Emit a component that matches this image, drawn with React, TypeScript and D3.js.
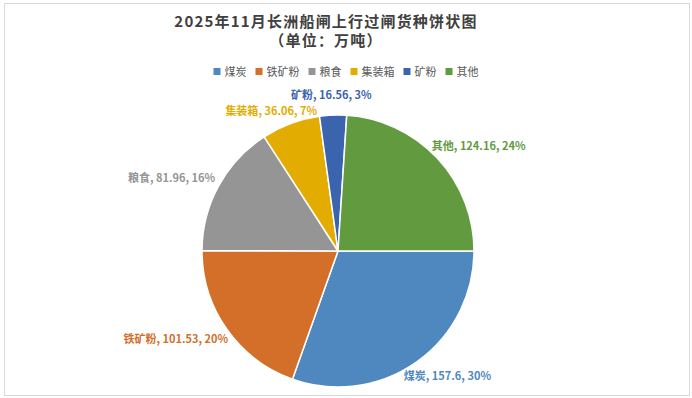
import * as d3 from "d3";
import { useRef, useEffect } from "react";

const categories = ["煤炭", "铁矿粉", "粮食", "集装箱", "矿粉", "其他"];
const values = [157.6, 101.53, 81.96, 36.06, 16.56, 124.16];
const colors = ["#4f88bf", "#d46f2a", "#959595", "#e3ac00", "#3b64ae", "#629b3f"];

const titleLines = ["2025年11月长洲船闸上行过闸货种饼状图", "（单位：万吨）"];

const FONT = "'Noto Sans CJK SC', 'Noto Sans', sans-serif";

function App() {
  const svgRef = useRef<SVGSVGElement>(null);

  useEffect(() => {
    document.body.style.margin = "0";
    const WIDTH = 692;
    const HEIGHT = 398;
    const CX = 338;
    const CY = 251;
    const RADIUS = 136;

    const svg = d3.select(svgRef.current)
      .attr("width", WIDTH)
      .attr("height", HEIGHT)
      .style("display", "block")
      .style("font-family", FONT);
    svg.selectAll("*").remove();

    svg.append("rect")
      .attr("x", 4.5).attr("y", 3.5)
      .attr("width", 685).attr("height", 392)
      .attr("fill", "white")
      .attr("stroke", "#d9d9d9");

    // title
    svg.append("g").selectAll("text")
      .data(titleLines)
      .join("text")
      .attr("x", 326)
      .attr("y", (d, i) => 27 + i * 19)
      .attr("text-anchor", "middle")
      .attr("font-size", 15)
      .attr("letter-spacing", 1.2)
      .attr("font-weight", "bold")
      .attr("fill", "#404040")
      .text(d => d);

    // legend
    const legend = svg.append("g");
    let lx = 0;
    categories.forEach((name, i) => {
      const item = legend.append("g").attr("transform", `translate(${lx},0)`);
      item.append("rect")
        .attr("x", 0).attr("y", -4)
        .attr("width", 7).attr("height", 7)
        .attr("fill", colors[i]);
      const t = item.append("text")
        .attr("x", 11).attr("y", 4)
        .attr("font-size", 11)
        .attr("fill", "#595959")
        .text(name);
      const w = (t.node() as SVGTextElement).getComputedTextLength();
      lx += 11 + w + 9;
    });
    const legendW = lx - 9;
    legend.attr("transform", `translate(${346 - legendW / 2},72)`);

    const pieData = d3.pie<number>()
      .sort(null)
      .startAngle(Math.PI / 2)
      .endAngle(Math.PI / 2 + 2 * Math.PI)
      .value(d => d)(values);
    const arcGenerator = d3.arc<d3.PieArcDatum<number>>().innerRadius(0).outerRadius(RADIUS);
    const total = d3.sum(values);
    const pct = d3.format(".0%");

    const pie = svg.append("g").attr("transform", `translate(${CX},${CY})`);
    pie.selectAll("path")
      .data(pieData)
      .join("path")
      .attr("d", arcGenerator)
      .attr("fill", (d, i) => colors[i])
      .attr("stroke", "white")
      .attr("stroke-width", 1.5);

    // data labels, outside end
    const h = 14;
    const boxes: { t: any; x: number; y: number; w: number }[] = [];
    pieData.forEach((d, i) => {
      const mid = (d.startAngle + d.endAngle) / 2;
      const sx = Math.sin(mid);
      const sy = -Math.cos(mid);
      const ax = (RADIUS + 10) * sx;
      const ay = (RADIUS + 10) * sy;
      const t = pie.append("text")
        .attr("font-size", 11)
        .attr("font-weight", "bold")
        .attr("fill", colors[i]);
      t.append("tspan").text(categories[i]);
      t.append("tspan").attr("font-weight", 600).text(`, ${values[i]}, ${pct(values[i] / total)}`);
      const w = (t.node() as SVGTextElement).getComputedTextLength();
      const cx = ax + (w / 2) * sx;
      const cy = ay + (h / 2) * sy;
      boxes.push({ t, x: cx - w / 2, y: cy, w });
    });

    // push apart labels that sit too close vertically
    const minGap = 16;
    for (let i = 0; i < boxes.length; i++) {
      for (let j = i + 1; j < boxes.length; j++) {
        const a = boxes[i], b = boxes[j];
        const xOverlap = a.x < b.x + b.w && b.x < a.x + a.w;
        const dy = Math.abs(a.y - b.y);
        if (xOverlap && dy < minGap) {
          const shift = (minGap - dy) / 2;
          if (a.y < b.y) { a.y -= shift; b.y += shift; } else { a.y += shift; b.y -= shift; }
        }
      }
    }
    boxes.forEach(b => b.t.attr("x", b.x).attr("y", b.y + 4));
  }, []);

  return (
    <div>
      <svg ref={svgRef} />
    </div>
  );
}

export default App;
